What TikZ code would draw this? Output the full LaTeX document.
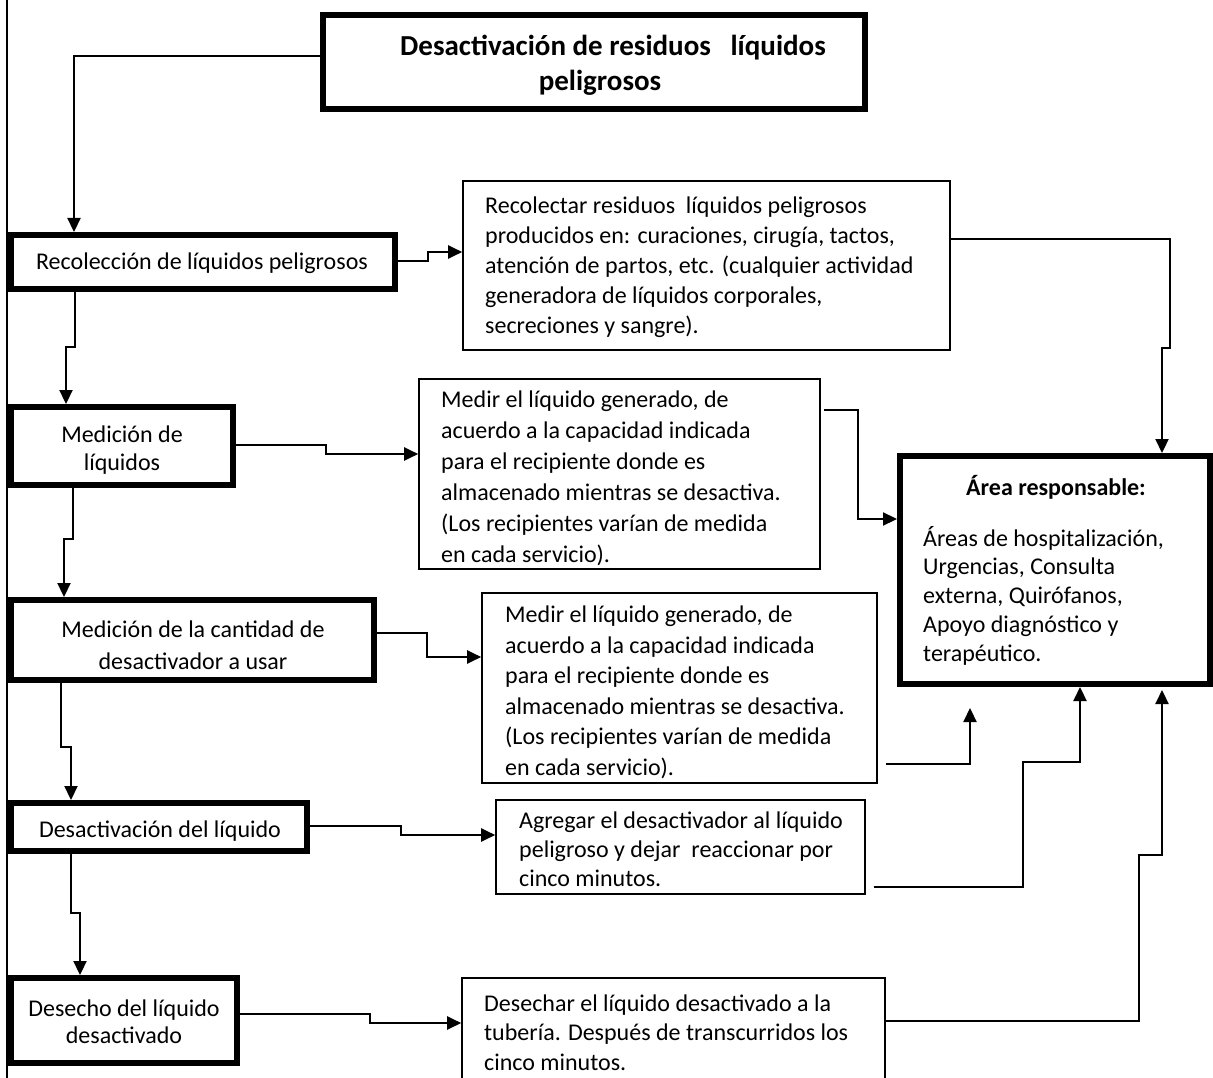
\documentclass[tikz,border=0pt]{standalone}
\usepackage{fontspec}
\setmainfont{Carlito}
\usetikzlibrary{arrows.meta}
\begin{document}
\begin{tikzpicture}[x=1pt,y=-1pt,
  thickbox/.style={draw, line width=6pt, inner sep=0pt},
  thinbox/.style={draw, line width=1.6pt, inner sep=0pt},
  txt/.style={font=\fontsize{24}{29}\selectfont, align=left, inner sep=0pt, anchor=base west},
  ctxt/.style={font=\fontsize{24}{30}\selectfont, align=center, inner sep=0pt},
  conn/.style={line width=2.2pt},
  arr/.style={conn, -{Triangle[length=14pt,width=13pt]}}]
\clip (0,0) rectangle (1213,1078);
\fill[white] (0,0) rectangle (1213,1078);
\draw[line width=1.6pt] (7,0) -- (7,1078);

% left column (thick boxes)
\node[thickbox, minimum width=542pt, minimum height=94pt] (title) at (594,62) {};
\node[ctxt, font=\fontsize{29}{35}\selectfont\bfseries] (titletxt) at (600,65) {\hspace*{26pt}Desactivación de residuos \ \ líquidos\\peligrosos};
\node[thickbox, minimum width=384pt, minimum height=54pt] (recol) at (203,262) {};
\node[ctxt] (recoltxt) at (202,263) {Recolección de líquidos peligrosos};
\node[thickbox, minimum width=222pt, minimum height=78pt] (medliq) at (122,446) {};
\node[ctxt, font=\fontsize{24}{28}\selectfont] (medliqtxt) at (122,450) {Medición de\\líquidos};
\node[thickbox, minimum width=363pt, minimum height=80pt] (medcant) at (192.5,640) {};
\node[ctxt, font=\fontsize{24}{32}\selectfont] (medcanttxt) at (193,645) {Medición de la cantidad de\\desactivador a usar};
\node[thickbox, minimum width=296pt, minimum height=48pt] (desact) at (159,827) {};
\node[ctxt] (desacttxt) at (160,831) {Desactivación del líquido};
\node[thickbox, minimum width=226pt, minimum height=85pt] (desecho) at (124,1020.5) {};
\node[ctxt, font=\fontsize{24}{27}\selectfont] (desechotxt) at (124,1022) {Desecho del líquido\\desactivado};

% middle column (thin boxes)
\node[thinbox, minimum width=487pt, minimum height=169pt] (recolectar) at (706.5,265.5) {};
\node[txt, font=\fontsize{24}{30}\selectfont] (recolectartxt) at (485,333) {Recolectar residuos \ líquidos peligrosos\\producidos en: curaciones, cirugía, tactos,\\atención de partos, etc. (cualquier actividad\\generadora de líquidos corporales,\\secreciones y sangre).};
\node[thinbox, minimum width=401pt, minimum height=190pt] (medir1) at (619.5,474) {};
\node[txt, font=\fontsize{24}{31}\selectfont] (medir1txt) at (441,562) {Medir el líquido generado, de\\acuerdo a la capacidad indicada\\para el recipiente donde es\\almacenado mientras se desactiva.\\(Los recipientes varían de medida\\en cada servicio).};
\node[thinbox, minimum width=395pt, minimum height=190pt] (medir2) at (679.5,688) {};
\node[txt, font=\fontsize{24}{30.5}\selectfont] (medir2txt) at (505,775) {Medir el líquido generado, de\\acuerdo a la capacidad indicada\\para el recipiente donde es\\almacenado mientras se desactiva.\\(Los recipientes varían de medida\\en cada servicio).};
\node[thinbox, minimum width=369pt, minimum height=94pt] (agregar) at (680.5,847) {};
\node[txt, font=\fontsize{24}{29}\selectfont] (agregartxt) at (519,886) {Agregar el desactivador al líquido\\peligroso y dejar \ reaccionar por\\cinco minutos.};
\node[thinbox, minimum width=423pt, minimum height=130pt] (desechar) at (673.5,1043) {};
\node[txt, font=\fontsize{24}{29.5}\selectfont] (desechartxt) at (484,1070) {Desechar el líquido desactivado a la\\tubería. Después de transcurridos los\\cinco minutos.};

% right box
\node[thickbox, minimum width=310pt, minimum height=228pt] (area) at (1055,570) {};
\node[ctxt, font=\fontsize{24}{30}\selectfont\bfseries] (areahead) at (1056,487) {Área responsable:};
\node[txt, font=\fontsize{24}{28.75}\selectfont] (areatxt) at (923,661) {Áreas de hospitalización,\\Urgencias, Consulta\\externa, Quirófanos,\\Apoyo diagnóstico y\\terapéutico.};

% free ends
\coordinate (m2tip) at (970,708);
\coordinate (dstip) at (1162,690);

% connectors
\draw[arr] (title.west |- 0,56) -| (recol.north -| 74,0);
\draw[arr] (recol.east |- 0,261) -- (428,261) -- (428,252) -- (recolectar.west |- 0,252);
\draw[arr] (recolectar.east |- 0,239) -- (1170,239) -- (1170,348) -- (1162,348) -- (area.north -| 1162,0);
\draw[arr] (recol.south -| 75,0) -- (75,347) -- (66,347) -- (medliq.north -| 66,0);
\draw[arr] (medliq.east |- 0,445) -- (326,445) -- (326,454) -- (medir1.west |- 0,454);
\draw[arr] ([xshift=3pt]medir1.east |- 0,410) -- (858,410) -- (858,519) -- (area.west |- 0,519);
\draw[arr] (medliq.south -| 73,0) -- (73,539) -- (64,539) -- (medcant.north -| 64,0);
\draw[arr] (medcant.east |- 0,633) -- (427,633) -- (427,657) -- (medir2.west |- 0,657);
\draw[arr] ([xshift=8pt]medir2.east |- 0,764) -- (970,764) -- (m2tip);
\draw[arr] (medcant.south -| 61,0) -- (61,747) -- (71,747) -- (desact.north -| 71,0);
\draw[arr] (desact.east |- 0,826) -- (401,826) -- (401,835) -- (agregar.west |- 0,835);
\draw[arr] ([xshift=8pt]agregar.east |- 0,887) -- (1023,887) -- (1023,762) -- (1080,762) -- (area.south -| 1080,0);
\draw[arr] (desact.south -| 71,0) -- (71,913) -- (80,913) -- (desecho.north -| 80,0);
\draw[arr] (desecho.east |- 0,1014) -- (370,1014) -- (370,1023) -- (desechar.west |- 0,1023);
\draw[arr] (desechar.east |- 0,1021) -- (1139,1021) -- (1139,855) -- (1162,855) -- (dstip);
\end{tikzpicture}
\end{document}
